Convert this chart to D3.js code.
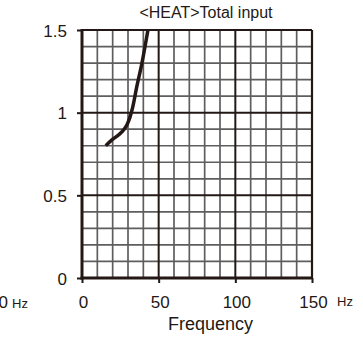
<!DOCTYPE html>
<html><head><meta charset="utf-8">
<script src="https://cdn.jsdelivr.net/npm/d3@7"></script>
<style>body{margin:0;background:#fff}svg{display:block;font-family:"Liberation Sans",Arial,sans-serif}</style>
</head><body><svg id="c" width="363" height="338"></svg>
<script>
const title = "<HEAT>Total input";
const xLabel = "Frequency";
const unit = "Hz";
const xTicks = [0, 50, 100, 150];
const yTicks = [0, 0.5, 1, 1.5];
const yTickLabels = ["0", "0.5", "1", "1.5"];
const freq = [15.5, 19.5, 23.8, 27.5, 29.5, 31.4, 33, 35.8, 39.1, 43];
const values = [0.80, 0.835, 0.865, 0.9, 0.93, 0.976, 1.03, 1.16, 1.30, 1.5];

const dark = "#231815", gray = "#5e5e5e";
const L = 82, R = 312, T = 30, B = 278;
const svg = d3.select("#c");
const x = d3.scaleLinear().domain([0, 150]).range([L, R]);
const y = d3.scaleLinear().domain([0, 1.5]).range([B, T]);

const g = svg.append("g");
// minor grid
d3.range(10, 150, 10).filter(v => v % 50 !== 0).forEach(v => {
  g.append("line").attr("x1", x(v)).attr("x2", x(v)).attr("y1", T).attr("y2", B)
   .attr("stroke", gray).attr("stroke-width", 1.7);
});
d3.range(1, 15).filter(i => i % 5 !== 0).forEach(i => {
  const v = i / 10;
  g.append("line").attr("x1", L).attr("x2", R).attr("y1", y(v)).attr("y2", y(v))
   .attr("stroke", gray).attr("stroke-width", 1.7);
});
// major grid
[50, 100].forEach(v => g.append("line").attr("x1", x(v)).attr("x2", x(v)).attr("y1", T).attr("y2", B)
   .attr("stroke", dark).attr("stroke-width", 2));
[0.5, 1].forEach(v => g.append("line").attr("x1", L).attr("x2", R).attr("y1", y(v)).attr("y2", y(v))
   .attr("stroke", dark).attr("stroke-width", 2));
// frame
g.append("line").attr("x1", L).attr("x2", R).attr("y1", T).attr("y2", T).attr("stroke", dark).attr("stroke-width", 2.2);
g.append("line").attr("x1", R).attr("x2", R).attr("y1", T).attr("y2", B).attr("stroke", dark).attr("stroke-width", 2.2);

// axes
const yAxis = d3.axisLeft(y).tickValues(yTicks).tickFormat((d, i) => yTickLabels[i]).tickSize(5).tickPadding(10);
const ya = svg.append("g").attr("transform", `translate(${L},0)`).call(yAxis);
const xAxis = d3.axisBottom(x).tickValues(xTicks).tickFormat(d3.format("d")).tickSize(5).tickPadding(13);
const xa = svg.append("g").attr("transform", `translate(0,${B})`).call(xAxis);
[ya, xa].forEach(a => {
  a.select(".domain").attr("stroke", dark).attr("stroke-width", 3);
  a.selectAll(".tick line").attr("stroke", dark).attr("stroke-width", 2);
  a.selectAll(".tick text").attr("fill", dark).attr("font-size", 17).attr("font-family", '"Liberation Sans",Arial,sans-serif');
});
ya.selectAll(".tick text").attr("dy", "0.36em");
xa.selectAll(".tick text").attr("dy", "0.71em").attr("dx", 1);
ya.select(".domain").attr("d", `M0,${B + 1.5}V${T - 1}`);
xa.select(".domain").attr("d", `M${L - 1.5},0H${R + 1}`);

// unit labels
svg.append("text").attr("x", 337).attr("y", 306).attr("font-size", 13).attr("fill", dark).text(unit);
svg.append("text").attr("x", 8).attr("y", 308).attr("text-anchor", "end").attr("font-size", 17).attr("fill", dark).text("0");
svg.append("text").attr("x", 12).attr("y", 308).attr("font-size", 13).attr("fill", dark).text(unit);

// curve
const line = d3.line().x((d, i) => x(freq[i])).y(d => y(d)).curve(d3.curveMonotoneX);
svg.append("path").datum(values).attr("d", line).attr("fill", "none")
  .attr("stroke", dark).attr("stroke-width", 3.5).attr("stroke-linecap", "butt");

// titles
svg.append("text").attr("x", 206).attr("y", 18).attr("text-anchor", "middle").attr("font-size", 16).attr("fill", dark).text(title);
svg.append("text").attr("x", 210.5).attr("y", 330).attr("text-anchor", "middle").attr("font-size", 18).attr("fill", dark).text(xLabel);
</script></body></html>
